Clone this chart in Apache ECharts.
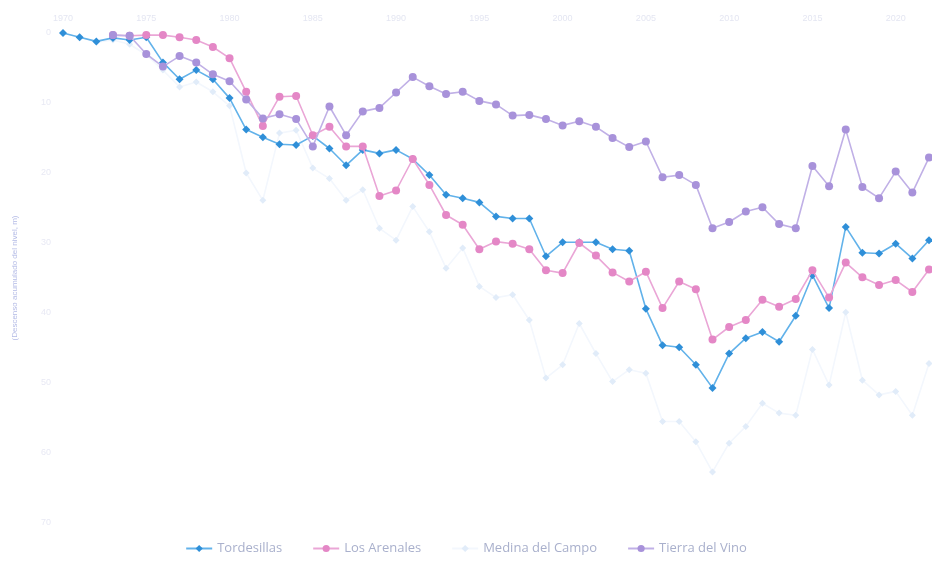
<!DOCTYPE html>
<html>
<head>
<meta charset="utf-8">
<script src="https://cdn.jsdelivr.net/npm/echarts@6/dist/echarts.min.js"></script>
<style>
html,body{margin:0;padding:0;background:#fff;}
#chart{width:932px;height:562px;}
</style>
</head>
<body>
<div id="chart"></div>
<script>
var years = [];
for (var y = 1970; y <= 2022; y++) years.push(String(y));

var tordesillas = [0,0.6,1.2,0.7,1.0,0.6,4.2,6.6,5.3,6.6,9.3,13.8,14.9,15.9,16.0,14.7,16.5,18.9,16.7,17.2,16.7,18.0,20.3,23.1,23.6,24.2,26.2,26.5,26.5,31.9,29.9,29.9,29.9,30.9,31.1,39.4,44.6,44.9,47.4,50.7,45.8,43.6,42.7,44.1,40.4,34.6,39.3,27.7,31.4,31.5,30.1,32.2,29.6];
var losArenales = [null,null,null,0.3,0.4,0.3,0.3,0.6,1.0,2.0,3.6,8.4,13.3,9.1,9.0,14.6,13.4,16.2,16.2,23.3,22.5,18.0,21.7,26.0,27.4,30.9,29.8,30.1,30.9,33.9,34.3,30.0,31.8,34.2,35.5,34.1,39.3,35.5,36.6,43.8,42.0,41.0,38.1,39.1,38.0,33.9,37.8,32.8,34.9,36.0,35.3,37.0,33.8];
var medinaDelCampo = [0,0.6,1.3,1.0,1.6,3.1,5.3,7.7,7.0,8.4,10.4,20.0,23.9,14.3,13.9,19.3,20.8,23.9,22.4,27.9,29.6,24.8,28.4,33.6,30.7,36.2,37.8,37.4,41.0,49.3,47.4,41.5,45.8,49.8,48.1,48.6,55.5,55.5,58.4,62.7,58.6,56.2,52.9,54.3,54.6,45.2,50.3,39.9,49.6,51.7,51.2,54.6,47.2];
var tierraDelVino = [null,null,null,0.3,0.4,3.0,4.8,3.3,4.2,5.9,6.9,9.5,12.2,11.6,12.3,16.2,10.5,14.6,11.2,10.7,8.5,6.3,7.6,8.7,8.4,9.7,10.2,11.8,11.7,12.3,13.2,12.6,13.4,15.0,16.3,15.5,20.6,20.3,21.7,27.9,27.0,25.5,24.9,27.3,27.9,19.0,21.9,13.8,22.0,23.6,19.8,22.8,17.8];

var seriesNames = ['Tordesillas','Los Arenales','Medina del Campo','Tierra del Vino'];

function mk(name, data, color, lineColor, symbol, size, z) {
  return {
    name: name, type: 'line', data: data, z: z,
    symbol: symbol, symbolSize: size,
    itemStyle: {color: color},
    lineStyle: {color: lineColor, width: 1.6},
    connectNulls: false
  };
}

var chart = echarts.init(document.getElementById('chart'));
chart.setOption({
  animation: false,
  grid: {left: 63, right: 3, top: 33, bottom: 39},
  legend: {
    bottom: 2, left: 'center', itemGap: 30, itemWidth: 26, itemHeight: 9,
    textStyle: {color: '#a9b0cc', fontSize: 13, fontFamily: 'Open Sans'},
    data: seriesNames
  },
  xAxis: {
    type: 'category', data: years, position: 'top', boundaryGap: false,
    axisLine: {show: false}, axisTick: {show: false},
    axisLabel: {interval: 4, color: '#e4e6f2', fontSize: 9, margin: 10}
  },
  yAxis: {
    type: 'value', inverse: true, min: 0, max: 70, interval: 10,
    name: '(Descenso acumulado del nivel, m)', nameLocation: 'middle', nameGap: 44,
    nameTextStyle: {color: '#b4bbe6', fontSize: 8},
    axisLine: {show: false}, axisTick: {show: false},
    splitLine: {show: false},
    axisLabel: {color: '#e8e9f4', fontSize: 9, margin: 12}
  },
  series: [
    mk(seriesNames[0], tordesillas, '#2f8fd8', '#62b2ea', 'diamond', 8, 4),
    mk(seriesNames[1], losArenales, '#e487c6', '#eaa6d6', 'circle', 8, 5),
    mk(seriesNames[2], medinaDelCampo, '#e1ecf9', '#f3f7fd', 'diamond', 7, 2),
    mk(seriesNames[3], tierraDelVino, '#a892da', '#c0b0e6', 'circle', 8, 6)
  ]
});
</script>
</body>
</html>
